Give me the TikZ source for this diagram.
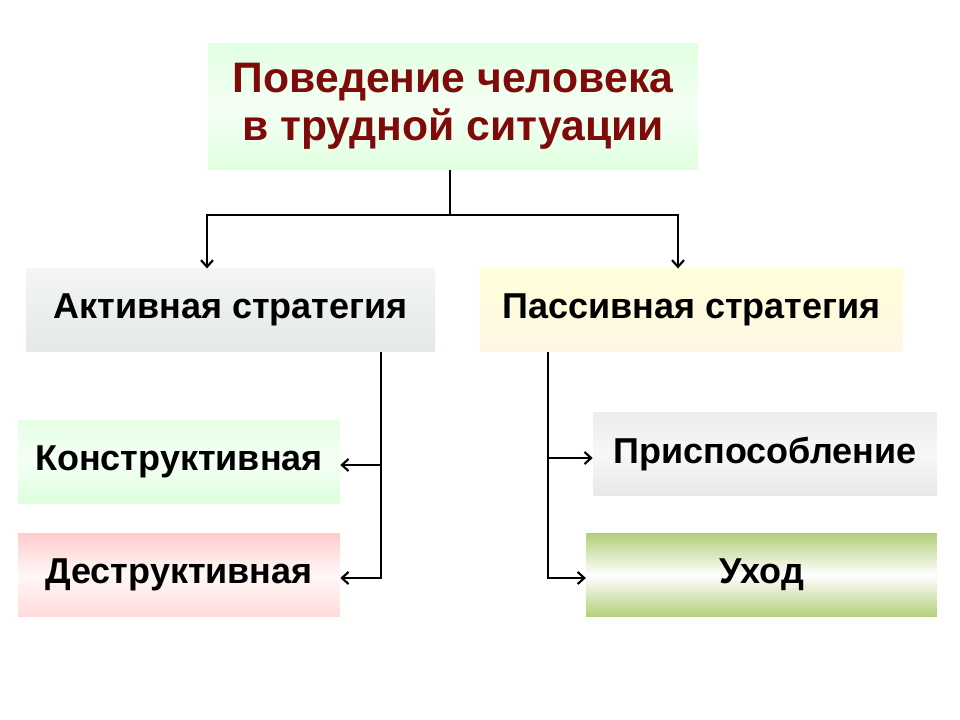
\documentclass[tikz,border=0pt]{standalone}
\usepackage{fontspec}
\setmainfont{Liberation Sans}
\usetikzlibrary{arrows.meta}
\definecolor{titlered}{HTML}{7F0A0A}
\definecolor{olivegreen}{HTML}{B5CF7A}
\tikzset{
	box/.style={minimum height=62pt, inner sep=0pt, font=\bfseries\fontsize{27}{31}\selectfont},
	link/.style={draw, line width=1.6pt, -{Straight Barb[length=5pt,width=9pt]}},
}
\begin{document}
\begin{tikzpicture}[x=0.75pt,y=-0.75pt]
	\useasboundingbox (0,0) rectangle (960,720);
	\node[box, minimum width=367.5pt, minimum height=95pt, top color=green!12, bottom color=green!12, middle color=white!96!green, text=titlered, align=center, font=\bfseries\fontsize{32}{36}\selectfont] (top) at (453,106.5) {Поведение человека\\в трудной ситуации};
	\node[box, minimum width=307pt, top color=cyan!6!gray!8, bottom color=cyan!10!gray!20] (act) at (230.5,310) {Активная стратегия};
	\node[box, minimum width=317pt, top color=yellow!15, bottom color=yellow!25!orange!10] (pas) at (691.5,310) {Пассивная стратегия};
	\node[box, minimum width=241.5pt, top color=green!10, bottom color=green!14, middle color=green!4] (kon) at (179,462) {Конструктивная};
	\node[box, minimum width=241.5pt, top color=red!20, bottom color=red!14, middle color=red!3] (des) at (179,575) {Деструктивная};
	\node[box, minimum width=258pt, top color=gray!14, bottom color=gray!18, middle color=gray!6] (pri) at (765,454) {Приспособление};
	\node[box, minimum width=263pt, top color=olivegreen, bottom color=olivegreen, middle color=white] (uho) at (761.5,575) {Уход};

	\coordinate (t1) at (450,215);
	\coordinate (tl) at (207,215);
	\coordinate (tr) at (678,215);
	\coordinate (a1) at (381,465);
	\coordinate (a2) at (381,578);
	\coordinate (p1) at (548,458);
	\coordinate (p2) at (548,578);

	\draw[line width=1.6pt] (top.south -| t1) -- (t1);
	\path[link] (t1) -- (tl) -- (act.north -| tl);
	\path[link] (t1) -- (tr) -- (pas.north -| tr);
	\path[link] (act.south -| a1) -- (a2) -- (des.east |- a2);
	\path[link] (a1) -- (kon.east |- a1);
	\path[link] (pas.south -| p1) -- (p2) -- (uho.west |- p2);
	\path[link] (p1) -- (pri.west |- p1);
\end{tikzpicture}
\end{document}
